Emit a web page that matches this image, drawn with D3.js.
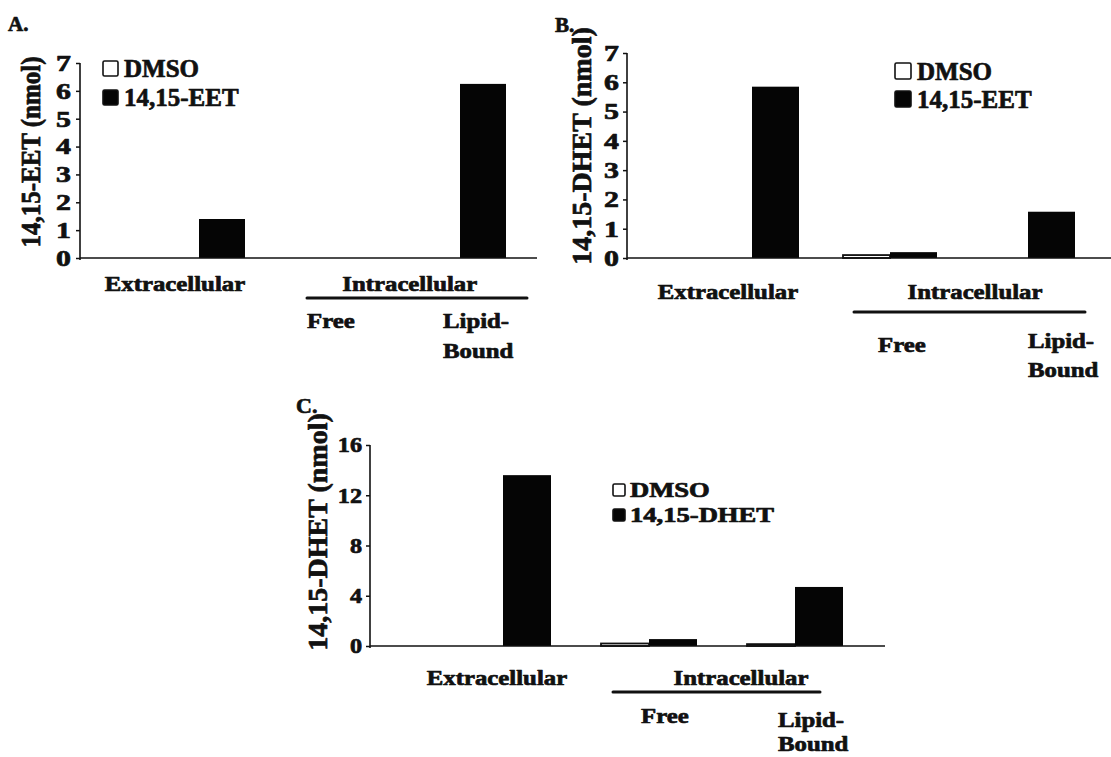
<!DOCTYPE html>
<html>
<head>
<meta charset="utf-8">
<script src="https://cdn.jsdelivr.net/npm/d3@7"></script>
<style>
  html, body { margin: 0; padding: 0; background: #fff; }
  svg { display: block; }
</style>
</head>
<body>
<svg id="fig" width="1111" height="757"></svg>
<script>
// ---- data ----
const categories = ["Extracellular", "Free", "Lipid-Bound"];
const groupLabel = "Intracellular";

const seriesA = ["DMSO", "14,15-EET"];
const dmsoA = [0, 0, 0];
const eetA = [1.4, 0, 6.25];
const ticksA = [0, 1, 2, 3, 4, 5, 6, 7];

const seriesB = ["DMSO", "14,15-EET"];
const dmsoB = [0, 0.1, 0];
const eetB = [5.85, 0.2, 1.58];
const ticksB = [0, 1, 2, 3, 4, 5, 6, 7];

const seriesC = ["DMSO", "14,15-DHET"];
const dmsoC = [0, 0.2, 0.15];
const dhetC = [13.6, 0.55, 4.7];
const ticksC = [0, 4, 8, 12, 16];

const titleA = "14,15-EET (nmol)";
const titleB = "14,15-DHET (nmol)";
const titleC = "14,15-DHET (nmol)";

// ---- drawing ----
const FONT = "'Liberation Serif', 'Times New Roman', serif";
const INK = "#111";
const svg = d3.select("#fig");

// heavy serif text at a point, with an optional horizontal / vertical stretch
function stretchedText(g, str, x, y, size, sx, sy, anchor) {
  return g.append("text")
    .attr("transform", `translate(${x},${y}) scale(${sx},${sy})`)
    .attr("font-family", FONT)
    .attr("font-weight", "bold")
    .attr("font-size", size)
    .attr("text-anchor", anchor || "start")
    .attr("fill", INK)
    .attr("stroke", INK)
    .attr("stroke-width", 0.7)
    .attr("stroke-linejoin", "round")
    .text(str);
}

function drawPanel(cfg) {
  const g = svg.append("g");
  const rows = categories.map((c, i) => ({ cat: c, ctrl: cfg.ctrl[i], trt: cfg.trt[i] }));

  const y = d3.scaleLinear().domain([0, cfg.yMax]).range([cfg.y0, cfg.yTop]);
  const step = cfg.step;
  const x = d3.scaleBand().domain(categories)
    .range([cfg.c0 - step / 2, cfg.c0 + step * (categories.length - 0.5)])
    .padding(0);
  const sub = d3.scaleBand().domain(cfg.series)
    .range([step / 2 - cfg.barW, step / 2 + cfg.barW]).padding(0);

  // panel letter
  stretchedText(g, cfg.letter, cfg.letterX, cfg.letterY, cfg.letterSize, 1, 1);

  // bars
  const grp = g.selectAll("g.grp").data(rows).join("g")
    .attr("class", "grp")
    .attr("transform", d => `translate(${x(d.cat)},0)`);
  grp.append("rect")
    .attr("x", sub(cfg.series[0]))
    .attr("width", sub.bandwidth())
    .attr("y", d => y(d.ctrl))
    .attr("height", d => y(0) - y(d.ctrl))
    .attr("fill", "#fff").attr("stroke", INK).attr("stroke-width", 1.8);
  grp.append("rect")
    .attr("x", sub(cfg.series[1]))
    .attr("width", sub.bandwidth())
    .attr("y", d => y(d.trt))
    .attr("height", d => y(0) - y(d.trt))
    .attr("fill", "#050505");

  // y axis
  const yAxis = d3.axisLeft(y).tickValues(cfg.ticks).tickSize(cfg.tickLen).tickFormat("");
  const ya = g.append("g").attr("transform", `translate(${cfg.axisX},0)`).call(yAxis);
  ya.select(".domain").remove();
  ya.selectAll(".tick line").attr("stroke", INK).attr("stroke-width", 1.5);
  g.append("line")
    .attr("x1", cfg.axisX).attr("x2", cfg.axisX)
    .attr("y1", y(cfg.yMax)).attr("y2", y(0) + 2)
    .attr("stroke", INK).attr("stroke-width", 1.6);
  cfg.ticks.forEach(t => {
    stretchedText(g, String(t), cfg.labelRight, y(t) + cfg.tickSize * 0.34, cfg.tickSize, cfg.tickSX, 1, "end");
  });

  // x axis baseline
  g.append("line")
    .attr("x1", cfg.axisX).attr("x2", cfg.axisEnd)
    .attr("y1", y(0)).attr("y2", y(0))
    .attr("stroke", INK).attr("stroke-width", 1.6);

  // y axis title
  g.append("text")
    .attr("transform", `translate(${cfg.titleX},${cfg.titleY}) rotate(-90) scale(1,${cfg.titleSY})`)
    .attr("font-family", FONT).attr("font-weight", "bold")
    .attr("font-size", cfg.titleSize).attr("text-anchor", "middle")
    .attr("dy", "0.34em").attr("fill", INK)
    .attr("stroke", INK).attr("stroke-width", 0.7).attr("stroke-linejoin", "round")
    .text(cfg.title);

  // category labels
  const cx = c => x(c) + step / 2;
  const L = cfg.lab;
  stretchedText(g, categories[0], cx(categories[0]) + L.extDx, y(0) + L.row1, L.size, L.sx, 1, "middle");
  const midIntra = (cx(categories[1]) + cx(categories[2])) / 2;
  stretchedText(g, groupLabel, midIntra + L.intraDx, y(0) + L.row1, L.size, L.sx, 1, "middle");
  g.append("line")
    .attr("x1", cx(categories[1]) + L.lineL).attr("x2", cx(categories[2]) + L.lineR)
    .attr("y1", y(0) + L.lineY).attr("y2", y(0) + L.lineY)
    .attr("stroke", INK).attr("stroke-width", 3).attr("stroke-linecap", "round");
  stretchedText(g, "Free", cx(categories[1]) + L.freeDx, y(0) + L.freeY, L.size, L.sx, 1);
  const parts = categories[2].split("-");
  stretchedText(g, parts[0] + "-", cx(categories[2]) + L.lipDx, y(0) + L.lipY, L.size, L.sx, 1);
  stretchedText(g, parts[1], cx(categories[2]) + L.lipDx, y(0) + L.boundY, L.size, L.sx, 1);

  // legend
  const lg = cfg.leg;
  cfg.series.forEach((s, i) => {
    const by = lg.y + i * lg.gap;
    g.append("rect")
      .attr("x", lg.x + 1).attr("y", by + 1)
      .attr("width", lg.box - 2).attr("height", lg.box - 2)
      .attr("rx", 1.5)
      .attr("fill", i === 0 ? "#fff" : "#050505")
      .attr("stroke", INK).attr("stroke-width", 1.6);
    stretchedText(g, s, lg.tx, by + lg.box, lg.size, lg.sx, 1);
  });
}

drawPanel({
  letter: "A.", letterX: 8, letterY: 31, letterSize: 21,
  series: seriesA, ctrl: dmsoA, trt: eetA, ticks: ticksA, yMax: 7,
  y0: 258, yTop: 63, axisX: 80, axisEnd: 537,
  c0: 199, step: 130.5, barW: 46,
  tickLen: 4, labelRight: 71, tickSize: 23, tickSX: 1.3,
  title: titleA, titleX: 30, titleY: 152, titleSize: 25, titleSY: 1.12,
  lab: { size: 21, sx: 1.18, row1: 33, extDx: -24, intraDx: 15, lineY: 40, lineL: -22.5, lineR: 67,
         freeDx: -22.5, freeY: 70, lipDx: -17, lipY: 70, boundY: 100 },
  leg: { x: 102, y: 60, box: 17, gap: 29, tx: 124, size: 25, sx: 1 }
});

drawPanel({
  letter: "B.", letterX: 555, letterY: 32, letterSize: 21,
  series: seriesB, ctrl: dmsoB, trt: eetB, ticks: ticksB, yMax: 7,
  y0: 258, yTop: 53, axisX: 627, axisEnd: 1111,
  c0: 752, step: 138, barW: 47,
  tickLen: 4, labelRight: 619, tickSize: 23, tickSX: 1.3,
  title: titleB, titleX: 581, titleY: 146, titleSize: 28, titleSY: 1,
  lab: { size: 21, sx: 1.18, row1: 41, extDx: -24, intraDx: 16, lineY: 54, lineL: -36, lineR: 57,
         freeDx: -12, freeY: 94, lipDx: 0, lipY: 90, boundY: 119 },
  leg: { x: 894, y: 62, box: 18, gap: 28, tx: 917, size: 25, sx: 1 }
});

drawPanel({
  letter: "C.", letterX: 296, letterY: 413, letterSize: 22,
  series: seriesC, ctrl: dmsoC, trt: dhetC, ticks: ticksC, yMax: 16,
  y0: 646, yTop: 445, axisX: 370, axisEnd: 885,
  c0: 503, step: 146, barW: 48,
  tickLen: 4, labelRight: 362, tickSize: 22, tickSX: 1.1,
  title: titleC, titleX: 317, titleY: 532, titleSize: 28, titleSY: 1,
  lab: { size: 21, sx: 1.18, row1: 39, extDx: -6, intraDx: 19, lineY: 46, lineL: -36, lineR: 25,
         freeDx: -8, freeY: 77, lipDx: -17, lipY: 81, boundY: 105 },
  leg: { x: 612, y: 483, box: 14, gap: 25, tx: 630, size: 20, sx: 1.33 }
});
</script>
</body>
</html>
